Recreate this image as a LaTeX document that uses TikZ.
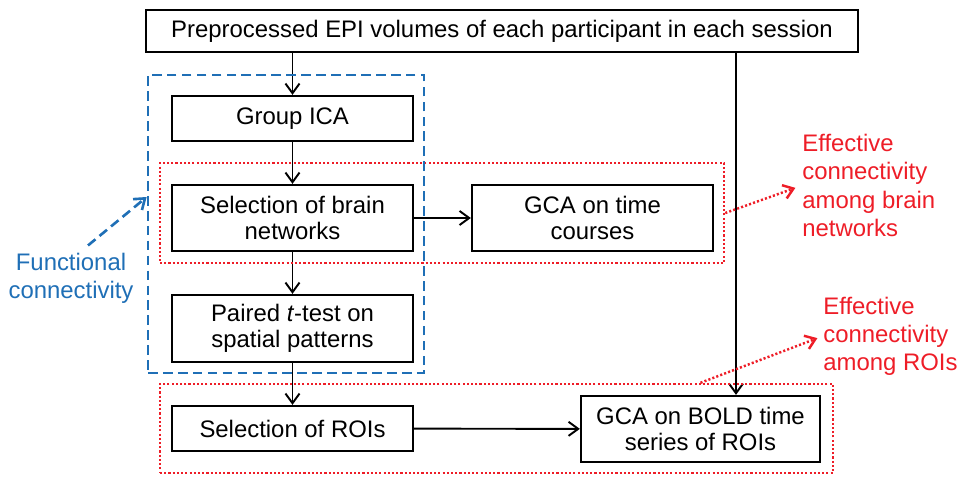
\documentclass[tikz,border=0pt]{standalone}
\usepackage{fontspec}
\setmainfont{Liberation Sans}
\usepackage{tikz}
\usetikzlibrary{arrows.meta}
\definecolor{cFc}{HTML}{1F6FB6}
\definecolor{cEc}{HTML}{EE1D27}

\begin{document}
\begin{tikzpicture}[x=1cm,y=1cm,
  proc/.style={draw,line width=1.3pt,fill=white,align=center,
    font=\fontsize{13.6}{14.8}\selectfont,inner sep=2pt},
  flow/.style={-{Straight Barb[length=5.5pt,width=8pt]},line width=1.1pt},
  fcframe/.style={draw=cFc,line width=1.5pt,dash pattern=on 5.5pt off 3pt,inner sep=0pt},
  ecframe/.style={draw=cEc,line width=1.4pt,dash pattern=on 1.2pt off 1.2pt,inner sep=0pt},
  fcflow/.style={-{Straight Barb[length=5.5pt,width=8pt]},draw=cFc,line width=1.5pt,
    dash pattern=on 5.5pt off 3pt},
  ecflow/.style={-{Straight Barb[length=5.5pt,width=8pt]},draw=cEc,line width=1.4pt,
    dash pattern=on 1.2pt off 1.2pt},
  lab/.style={font=\fontsize{13.6}{16}\selectfont,inner sep=0pt}]

  \useasboundingbox (0,0) rectangle (19.14,-9.52);

  \node[proc,minimum width=14.24cm,minimum height=0.84cm] (top) at (10.04,-0.62)
    {Preprocessed EPI volumes of each participant in each session};
  \node[proc,minimum width=4.82cm,minimum height=0.90cm] (ica) at (5.85,-2.37)
    {Group ICA};
  \node[proc,minimum width=4.82cm,minimum height=1.32cm] (selnet) at (5.85,-4.36)
    {Selection of brain\\networks};
  \node[proc,minimum width=4.82cm,minimum height=1.32cm] (gcatc) at (11.85,-4.36)
    {GCA on time\\courses};
  \node[proc,minimum width=4.82cm,minimum height=1.34cm] (paired) at (5.85,-6.57)
    {Paired \textit{t}-test on\\spatial patterns};
  \node[proc,minimum width=4.82cm,minimum height=0.90cm] (selroi) at (5.85,-8.57)
    {Selection of ROIs};
  \node[proc,minimum width=4.78cm,minimum height=1.32cm] (gcabold) at (14.01,-8.58)
    {GCA on BOLD time\\series of ROIs};

  \coordinate (tap) at (14.72,0);

  \draw[flow] (top.south -| ica.north) -- (ica.north);
  \draw[flow] (ica) -- (selnet);
  \draw[flow] (selnet) -- (gcatc);
  \draw[flow] (selnet) -- (paired);
  \draw[flow] (paired) -- (selroi);
  \draw[flow] (selroi) -- (gcabold);
  \draw[flow] (top.south -| tap) -- (gcabold.north -| tap);

  % effective connectivity frames
  \node[ecframe,minimum width=11.28cm,minimum height=2.00cm] (ecnet) at (8.84,-4.26) {};
  \node[ecframe,minimum width=13.46cm,minimum height=1.78cm] (ecroi) at (9.93,-8.57) {};
  % functional connectivity frame
  \node[fcframe,minimum width=5.52cm,minimum height=5.96cm] (fcbox) at (5.72,-4.48) {};

  \node[lab,text=cFc,align=center] (fclab) at (1.42,-5.56)
    {Functional\\connectivity};
  \node[lab,text=cEc,align=left,anchor=west] (eclabnet) at (16.04,-3.71)
    {Effective\\connectivity\\among brain\\networks};
  \node[lab,text=cEc,align=left,anchor=west] (eclabroi) at (16.46,-6.72)
    {Effective\\connectivity\\among ROIs};

  \draw[fcflow] ([xshift=0.34cm,yshift=0.14cm]fclab.north) -- ([yshift=0.54cm]fcbox.west);
  \draw[ecflow,shorten >=0.14cm] (ecnet.east) -- (eclabnet.west);
  \draw[ecflow,shorten >=0.12cm] (ecroi.north -| gcabold.north) -- (eclabroi.west);
\end{tikzpicture}
\end{document}
